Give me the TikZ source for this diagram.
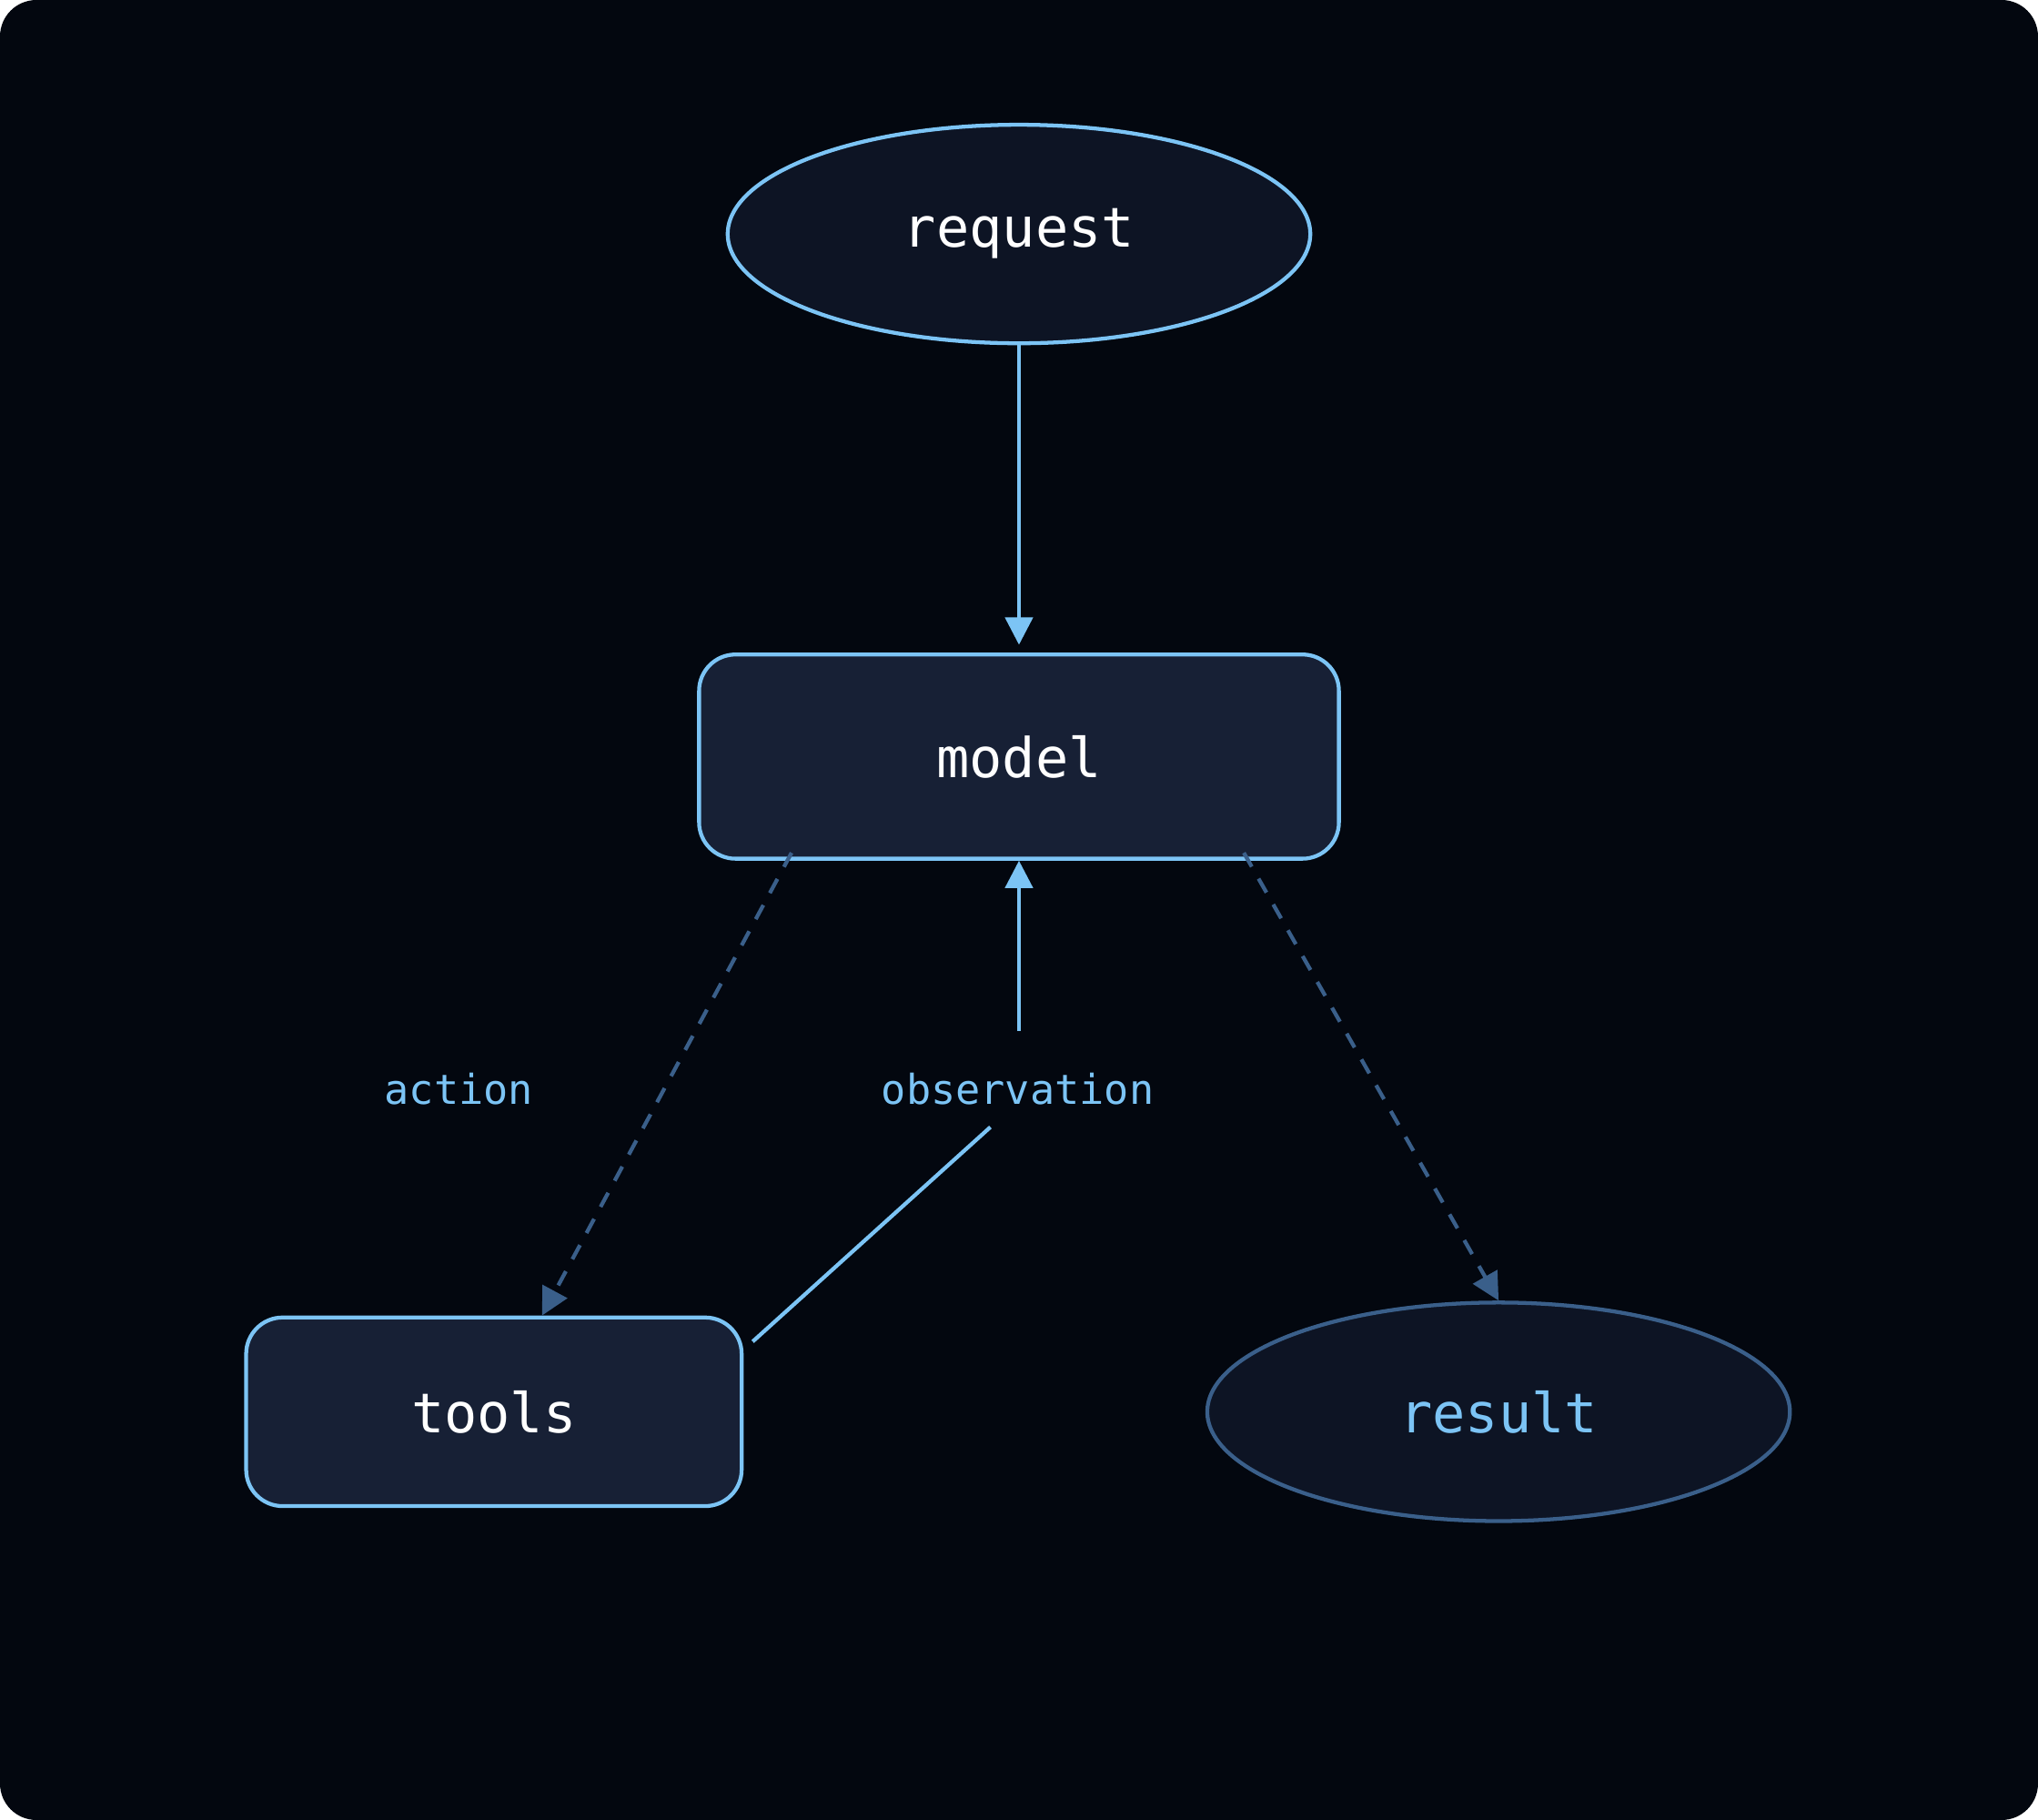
\documentclass[tikz,border=0pt]{standalone}
\usepackage{fontspec}
\setmonofont{DejaVu Sans Mono}
\usetikzlibrary{shapes.geometric,arrows.meta}
\definecolor{bgdark}{HTML}{03070F}
\definecolor{ovalfill}{HTML}{0D1424}
\definecolor{boxfill}{HTML}{172035}
\definecolor{skyline}{HTML}{7CC4F5}
\definecolor{dimline}{HTML}{3A5F8A}
\tikzstyle{termStyle}=[shape = ellipse, minimum width = 4.48cm, minimum height = 1.68cm, draw = skyline, fill = ovalfill, line width = 0.85pt, font = \ttfamily\fontsize{12}{14}\selectfont, text = white]
\tikzstyle{stepBox}=[shape = rectangle, rounded corners = 0.28cm, draw = skyline, fill = boxfill, line width = 0.85pt, font = \ttfamily\fontsize{12}{14}\selectfont, text = white]
\begin{document}
\begin{tikzpicture}[x = 0.01cm, y = -0.01cm]
\tikzstyle{edgeLabel}=[font = \ttfamily\fontsize{9}{11}\selectfont, text = skyline, inner sep = 0pt]
\tikzstyle{solidEdge}=[draw = skyline, line width = 0.85pt, -{Triangle[width=6pt,length=6pt]}, shorten > = 1.7pt]
\tikzstyle{dashEdge}=[draw = dimline, line width = 0.85pt, dash pattern = on 3.5pt off 3pt, -{Triangle[width=6pt,length=6pt]}]
\fill[bgdark, rounded corners = 0.28cm] (0,0) rectangle (1568,1400);
\useasboundingbox (0,0) rectangle (1568,1400);
\node[termStyle] (request) at (784,180) {request};
\node[stepBox, minimum width = 4.92cm, minimum height = 1.57cm] (model) at (784,582) {model};
\node[stepBox, minimum width = 3.81cm, minimum height = 1.45cm] (tools) at (380,1086) {tools};
\node[termStyle, draw = dimline, text = skyline] (result) at (1153,1086) {result};
\node[edgeLabel] (action) at (353,838) {action};
\node[edgeLabel] (observation) at (783,838) {observation};
\draw[solidEdge] (request) -- (model);
\draw[dashEdge] (609,656) -- (tools.north -| 417,0);
\draw[dashEdge] (957,656) -- (result.north);
\draw[draw = skyline, line width = 0.85pt] ([xshift = 0.07cm, yshift = -0.2cm]tools.north east) -- (762,867);
\draw[solidEdge, shorten > = 0pt] (784,793) -- (model.south);
\end{tikzpicture}
\end{document}
